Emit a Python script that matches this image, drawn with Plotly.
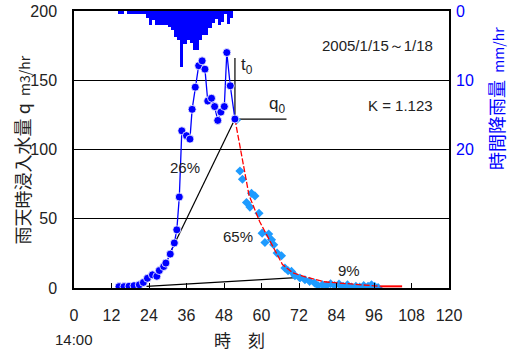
import plotly.graph_objects as go

# ---- data ----
rain_hours = [14, 15, 17, 18, 19, 20, 21, 22, 23, 24, 25, 26, 27, 28, 29, 30, 31, 32, 33,
              34, 35, 36, 37, 38, 39, 40, 41, 42, 43, 44, 45, 46, 47, 48, 49, 50]
rain_mm = [0.5, 0.5, 0.5, 0.5, 0.5, 0.5, 0.5, 0.5, 1.0, 2.0, 1.3, 2.0, 2.0, 2.0, 2.0, 2.3, 2.8, 3.7, 4.2,
           8.1, 4.7, 4.2, 4.6, 5.7, 5.7, 4.2, 3.5, 3.5, 2.5, 1.8, 1.2, 2.0, 1.6, 0.5, 1.9, 1.0]

rise_t = [14.4, 16.0, 17.6, 19.2, 20.9, 22.2, 23.5, 25.1, 26.5, 27.3, 28.7, 29.4, 30.8, 32.1, 32.9,
          33.7, 34.5, 36.0, 37.1, 37.8, 38.8, 39.9, 41.0, 41.9, 42.8, 44.0, 45.0, 46.0, 47.0,
          48.1, 48.9, 50.0, 51.5]
rise_q = [1.0, 1.0, 1.3, 1.7, 2.3, 4.0, 7.0, 9.5, 8.5, 12.6, 15.5, 18.0, 24.5, 32.5, 42.0,
          65.7, 113.5, 110.0, 107.5, 129.0, 145.0, 160.5, 164.0, 158.0, 135.0, 137.0, 131.0, 121.0, 127.0,
          131.0, 170.0, 146.0, 122.0]

rec_t = [52.0, 53.1, 53.9, 55.2, 56.3, 56.8, 57.9, 59.2, 60.2, 61.1, 62.3, 63.2, 63.9, 65.0, 66.4,
         67.5, 68.5, 69.6, 70.7, 72.3, 73.9, 75.4, 77.0, 78.1, 79.5, 80.8, 82.1, 83.4, 84.8, 86.1,
         87.5, 88.8, 90.2, 91.4, 92.7, 94.1, 95.2, 96.2, 97.3]
rec_q = [121.3, 84.5, 78.5, 61.7, 58.4, 68.4, 66.5, 54.0, 39.6, 32.9, 38.9, 34.8, 31.2, 25.2, 23.3,
         14.4, 12.5, 12.0, 8.9, 7.2, 6.0, 4.8, 3.6, 1.7, 2.4, 1.7, 3.1, 1.7, 2.9, 1.2,
         2.4, 0.7, 1.2, 0.7, 1.7, 1.2, 2.4, 1.2, 0.3]

model_t = [51.5, 56.0, 59.4, 62.6, 66.7, 70.0, 74.0, 80.0, 90.0, 98.0]
model_q = [122.0, 67.0, 48.0, 34.5, 17.0, 11.0, 8.0, 4.5, 2.5, 1.2]
model_tail_t = [98.0, 105.0]
model_tail_q = [1.2, 1.2]

t0_line_t = [51.5, 51.5]
t0_line_q = [122.0, 166.0]
q0_line_t = [51.5, 68.0]
q0_line_q = [122.0, 122.0]
tangent_t = [31.0, 51.5]
tangent_q = [26.5, 122.0]
base_t = [23.2, 73.8]
base_q = [1.2, 7.9]

x_ticks = [0, 12, 24, 36, 48, 60, 72, 84, 96, 108, 120]
y_ticks = [0, 50, 100, 150, 200]
rain_ticks = [0, 10, 20]

NUM = "Liberation Sans, Arial, sans-serif"
CJK = "Noto Sans CJK JP, sans-serif"

fig = go.Figure()

fig.add_trace(go.Bar(x=[h + 0.5 for h in rain_hours], y=rain_mm, width=1.0, yaxis="y2",
                     marker=dict(color="#0000FF", line=dict(width=0)), showlegend=False))

for tt, qq in [(t0_line_t, t0_line_q), (q0_line_t, q0_line_q), (tangent_t, tangent_q), (base_t, base_q)]:
    fig.add_trace(go.Scatter(x=tt, y=qq, mode="lines", line=dict(color="black", width=1.2),
                             showlegend=False))

fig.add_trace(go.Scatter(x=rec_t, y=rec_q, mode="markers",
                         marker=dict(symbol="diamond", size=7, color="#1E9BFF"), showlegend=False))
fig.add_trace(go.Scatter(x=model_t, y=model_q, mode="lines",
                         line=dict(color="#FF0000", width=1.3, dash="6px,2px"), showlegend=False))
fig.add_trace(go.Scatter(x=model_tail_t, y=model_tail_q, mode="lines",
                         line=dict(color="#FF0000", width=2), showlegend=False))

fig.add_trace(go.Scatter(x=rise_t, y=rise_q, mode="lines+markers",
                         line=dict(color="#0000FF", width=1.3),
                         marker=dict(symbol="circle", size=8, color="#0000FF",
                                     line=dict(color="white", width=0.8)), showlegend=False))

fig.update_layout(
    width=511, height=351,
    margin=dict(l=74, r=62, t=11, b=63),
    paper_bgcolor="white", plot_bgcolor="white",
    bargap=0,
    xaxis=dict(range=[0, 120], tickvals=x_ticks, ticks="inside", ticklen=5, tickcolor="black",
               showline=True, linecolor="black", linewidth=1.5, mirror=True, showgrid=False,
               zeroline=False, ticklabelstandoff=12, automargin=False,
               tickfont=dict(family=NUM, size=16, color="#222")),
    yaxis=dict(range=[0, 200], tickvals=y_ticks, ticks="", showline=True, linecolor="black",
               linewidth=1.5, mirror=True, showgrid=True, gridcolor="black", gridwidth=1,
               zeroline=False, ticklabelstandoff=12, automargin=False,
               tickfont=dict(family=NUM, size=16, color="#222")),
    yaxis2=dict(range=[40, 0], overlaying="y", side="right", tickvals=rain_ticks, ticks="",
                showgrid=False, zeroline=False, showline=False, ticklabelstandoff=6,
                automargin=False,
                tickfont=dict(family=NUM, size=16, color="#0000FF")),
)

fig.add_annotation(x=-0.139, y=0.5, xref="x domain", yref="y domain", textangle=-90,
                   xanchor="center", yanchor="middle",
                   text="雨天時浸入水量 q <span style='font-size:14px'> m3/hr</span>",
                   font=dict(family=CJK, size=18, color="#222"), showarrow=False)
fig.add_annotation(x=1.127, y=0.685, xref="x domain", yref="y domain", textangle=-90,
                   xanchor="center", yanchor="middle",
                   text="時間降雨量 <span style='font-size:14px'> mm/hr</span>",
                   font=dict(family=CJK, size=18, color="#0000FF"), showarrow=False)

def txt(x, y, s, size=15, family=NUM, xanchor="center", color="#222"):
    fig.add_annotation(x=x, y=y, xref="x", yref="y", text=s, showarrow=False,
                       xanchor=xanchor, yanchor="middle",
                       font=dict(family=family, size=size, color=color))

txt(35.5, 87, "26%")
txt(52.5, 37, "65%")
txt(88, 13, "9%")
txt(55.3, 160, "t<sub>0</sub>", size=17)
txt(64.8, 132, "q<sub>0</sub>", size=17)
txt(115.5, 175, "2005/1/15～1/18", size=15, xanchor="right")
txt(115.5, 132, "K = 1.123", size=15, xanchor="right")

fig.add_annotation(x=0, y=-0.186, xref="x", yref="y domain", text="14:00", showarrow=False,
                   xanchor="center", yanchor="middle",
                   font=dict(family=NUM, size=15, color="#222"))
fig.add_annotation(x=53, y=-0.186, xref="x", yref="y domain", text="時　刻", showarrow=False,
                   xanchor="center", yanchor="middle",
                   font=dict(family=CJK, size=17, color="#222"))

fig.write_html("out.html")
